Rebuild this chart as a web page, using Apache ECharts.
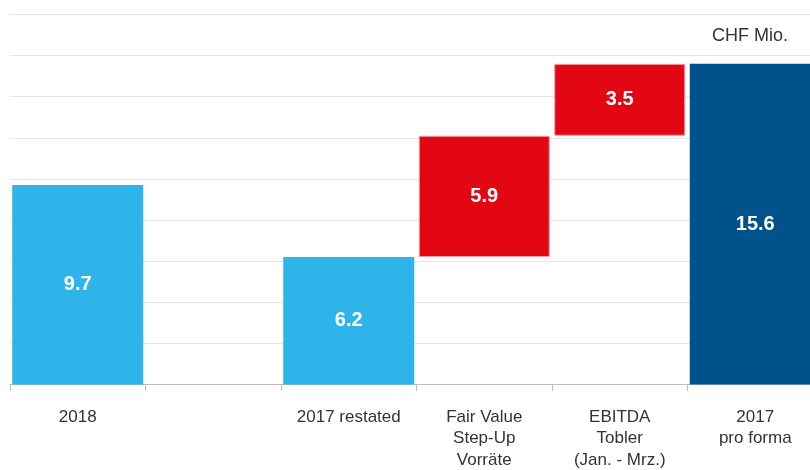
<!DOCTYPE html>
<html>
<head>
<meta charset="utf-8">
<script src="https://cdn.jsdelivr.net/npm/echarts@6/dist/echarts.min.js"></script>
<style>
  html, body { margin: 0; padding: 0; background: #fff; }
  #chart { width: 810px; height: 470px; }
</style>
</head>
<body>
<div id="chart"></div>
<script>
const categories = ['2018', '', '2017 restated', 'Fair Value\nStep-Up\nVorräte', 'EBITDA\nTobler\n(Jan. - Mrz.)', '2017\npro forma'];
const values = [9.7, null, 6.2, 5.9, 3.5, 15.6];
// Anfang jedes Balkens (Wasserfall)
const bases = [0, null, 0, 6.2, 12.1, 0];
const barColors = ['#2fb4e9', null, '#2fb4e9', '#e30613', '#e30613', '#00528a'];

const font = '"Liberation Sans", Arial, sans-serif';
const chart = echarts.init(document.getElementById('chart'));

const option = {
  animation: false,
  textStyle: { fontFamily: font },
  grid: { left: 10, width: 813, top: 14.5, bottom: 85.5, containLabel: false, outerBoundsMode: 'none' },
  graphic: [{
    type: 'text',
    right: 22,
    top: 27,
    style: { text: 'CHF Mio.', fontSize: 18, fill: '#333', fontFamily: font }
  }],
  xAxis: {
    type: 'category',
    data: categories,
    axisLine: { lineStyle: { color: '#bbb' } },
    axisTick: { show: true, length: 6, lineStyle: { color: '#bbb' } },
    axisLabel: { color: '#333', fontSize: 17, lineHeight: 21.5, margin: 22, interval: 0 }
  },
  yAxis: {
    type: 'value',
    min: 0,
    max: 18,
    interval: 2,
    axisLabel: { show: false },
    axisLine: { show: false },
    axisTick: { show: false },
    splitLine: { lineStyle: { color: '#e6e6e6', width: 1 } }
  },
  series: [
    {
      type: 'bar',
      stack: 'w',
      barCategoryGap: '3.3%',
      itemStyle: { color: 'transparent' },
      emphasis: { disabled: true },
      data: bases.map(v => v === null ? '-' : v)
    },
    {
      type: 'bar',
      stack: 'w',
      barCategoryGap: '3.3%',
      data: values.map((v, i) => v === null ? '-' : {
        value: v,
        itemStyle: {
          color: barColors[i],
          borderColor: barColors[i] === '#e30613' ? '#f5a0a5' : barColors[i],
          borderWidth: barColors[i] === '#e30613' ? 1 : 0
        }
      }),
      label: {
        show: true,
        position: 'inside',
        color: '#fff',
        fontSize: 20,
        fontWeight: 'bold',
        formatter: p => p.value.toFixed(1)
      }
    }
  ]
};

chart.setOption(option);
</script>
</body>
</html>
